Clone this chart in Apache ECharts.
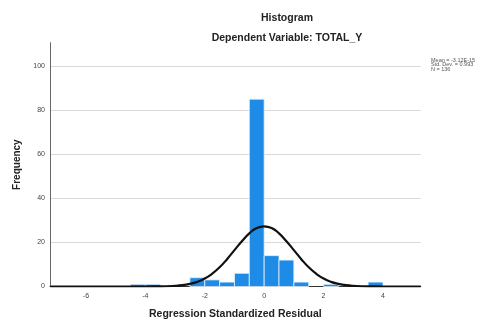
<!DOCTYPE html>
<html>
<head>
<meta charset="utf-8">
<script src="https://cdn.jsdelivr.net/npm/echarts@6/dist/echarts.min.js"></script>
<style>html,body{margin:0;padding:0;background:#fff;}#c{width:480px;height:322px;}</style>
</head>
<body>
<div id="c"></div>
<script>
// Histogram bins (lower edge, upper edge) and frequencies
var binStarts = [-4.5, -4, -2.5, -2, -1.5, -1, -0.5, 0, 0.5, 1, 2, 3.5];
var binEnds   = [-4, -3.5, -2, -1.5, -1, -0.5, 0, 0.5, 1, 1.5, 2.5, 4];
var counts    = [1, 1, 4, 3, 2, 6, 85, 14, 12, 2, 1, 2];

// Normal curve
var curveX = [-7.2, -4.5, -4, -3.5, -3, -2.75, -2.5, -2.25, -2, -1.75, -1.5, -1.25, -1, -0.75, -0.5, -0.25, 0, 0.25, 0.5, 0.75, 1, 1.25, 1.5, 1.75, 2, 2.25, 2.5, 2.75, 3, 3.5, 4, 5.27];
var curveY = [0, 0, 0.01, 0.05, 0.3, 0.6, 1.2, 2.1, 3.6, 5.8, 8.7, 12.4, 16.5, 20.5, 24.1, 26.5, 27.3, 26.5, 24.1, 20.5, 16.5, 12.4, 8.7, 5.8, 3.6, 2.1, 1.2, 0.6, 0.3, 0.05, 0.01, 0];

var xTicks = [-6, -4, -2, 0, 2, 4];
var yTicks = [0, 20, 40, 60, 80, 100];
var gridValues = [20, 40, 60, 80, 100];

var title = 'Histogram';
var subtitle = 'Dependent Variable: TOTAL_Y';
var xName = 'Regression Standardized Residual';
var yName = 'Frequency';
var statsText = ['Mean = -3.12E-15', 'Std. Dev. = 0.993', 'N = 136'];

var histData = binStarts.map(function (s, i) { return [s, binEnds[i], counts[i]]; });
var curveData = curveX.map(function (x, i) { return [x, curveY[i]]; });

var FONT = 'Liberation Sans, Arial, sans-serif';
var chart = echarts.init(document.getElementById('c'), null, {renderer: 'canvas'});
chart.setOption({
  animation: false,
  backgroundColor: '#fff',
  title: [
    {text: title, left: 282, top: 8, textAlign: 'center',
     textStyle: {fontFamily: FONT, fontSize: 10.5, fontWeight: 'bold', color: '#222'}},
    {text: subtitle, left: 282, top: 28, textAlign: 'center',
     textStyle: {fontFamily: FONT, fontSize: 10.5, fontWeight: 'bold', color: '#222'}},
    {text: statsText.join('\n'), left: 426, top: 53,
     textStyle: {fontFamily: FONT, fontSize: 5.5, fontWeight: 'normal', color: '#555', lineHeight: 4.6}}
  ],
  grid: {left: 50, right: 59.3, top: 42.7, bottom: 35.5, containLabel: false, outerBoundsMode: 'none'},
  xAxis: {
    type: 'value', min: -7.21, max: 5.27,
    name: xName, nameLocation: 'middle', nameGap: 22,
    nameTextStyle: {fontFamily: FONT, fontSize: 10.5, fontWeight: 'bold', color: '#222'},
    axisLine: {show: true, onZero: false, lineStyle: {color: '#333', width: 1}},
    axisTick: {show: false, customValues: xTicks},
    axisLabel: {customValues: xTicks, fontFamily: FONT, fontSize: 7, color: '#444', margin: 6},
    splitLine: {show: false}
  },
  yAxis: {
    type: 'value', min: 0, max: 110.6,
    name: yName, nameLocation: 'middle', nameGap: 24, nameRotate: 90,
    nameTextStyle: {fontFamily: FONT, fontSize: 10, fontWeight: 'bold', color: '#222'},
    axisLine: {show: true, onZero: false, lineStyle: {color: '#666', width: 1}},
    axisTick: {show: false, customValues: yTicks},
    axisLabel: {customValues: yTicks, fontFamily: FONT, fontSize: 7, color: '#444', margin: 5},
    splitLine: {show: false}
  },
  series: [
    {
      type: 'custom',
      name: 'Frequency',
      data: histData,
      encode: {x: [0, 1], y: 2},
      renderItem: function (params, api) {
        var p0 = api.coord([api.value(0), api.value(2)]);
        var p1 = api.coord([api.value(1), 0]);
        return {
          type: 'rect',
          shape: {x: p0[0], y: p0[1], width: p1[0] - p0[0], height: p1[1] - p0[1]},
          style: {fill: '#1E8CE6', stroke: '#e8f2fb', lineWidth: 0.8}
        };
      },
      markLine: {
        silent: true, symbol: 'none', label: {show: false},
        lineStyle: {color: '#d9d9d9', width: 1, type: 'solid'},
        data: gridValues.map(function (v) { return {yAxis: v}; }),
        z: 0
      },
      z: 2
    },
    {
      type: 'line',
      data: curveData,
      smooth: 0.5,
      showSymbol: false,
      lineStyle: {color: '#111', width: 2.2},
      z: 3
    }
  ]
});
</script>
</body>
</html>
